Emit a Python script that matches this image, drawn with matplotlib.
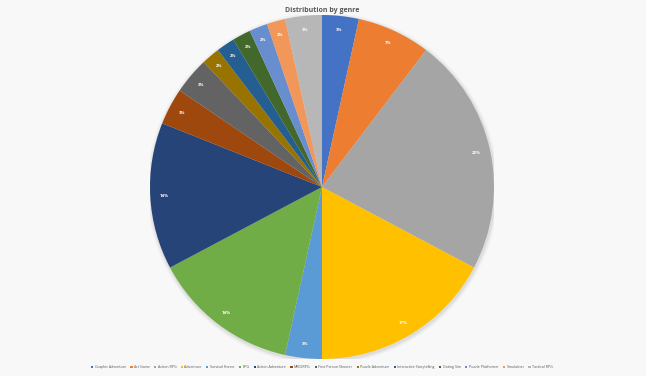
"""Pie chart of games by genre."""

import matplotlib.pyplot as plt
from matplotlib.patches import Circle

genres = [
    "Graphic Adventure", "Art Game", "Action RPG", "Adventure", "Survival Horror",
    "RPG", "Action Adventure", "MMORPG", "First Person Shooter", "Puzzle Adventure",
    "Interactive Storytelling", "Dating Sim", "Puzzle Platformer", "Simulation", "Tactical RPG",
]
counts = [2, 4, 13, 10, 2, 8, 8, 2, 2, 1, 1, 1, 1, 1, 2]
colors = [
    "#4472C4", "#ED7D31", "#A5A5A5", "#FFC000", "#5B9BD5",
    "#70AD47", "#264478", "#9E480E", "#636363", "#997300",
    "#255E91", "#43682B", "#698ED0", "#F1975A", "#B7B7B7",
]

plt.rcParams["font.family"] = ["Open Sans", "DejaVu Sans"]

W, H = 646, 376
fig = plt.figure(figsize=(W / 100, H / 100), dpi=100)
fig.patch.set_facecolor("#f8f8f8")

cx, cy, r = 322, 187, 172
ax = fig.add_axes([(cx - r) / W, (H - cy - r) / H, 2 * r / W, 2 * r / H])

wedges, _, autotexts = ax.pie(
    counts, colors=colors, startangle=90, counterclock=False,
    autopct="%.0f%%", pctdistance=0.92, radius=1.0,
    wedgeprops=dict(linewidth=0),
)
for t in autotexts:
    t.set_color("white")
    t.set_fontsize(3.2)
    t.set_fontweight("bold")

# soft shadow under the pie
for i, a in enumerate([0.05, 0.035, 0.02]):
    ax.add_patch(Circle((0.004, -0.008), 1.0 + 0.008 * (i + 1), color="#000000",
                        alpha=a, lw=0, zorder=0))

ax.set_xlim(-1.0, 1.0)
ax.set_ylim(-1.0, 1.0)
ax.set_aspect("equal")
ax.axis("off")

fig.text(cx / W, 1 - 11 / H, "Distribution by genre", ha="center", va="center",
         fontsize=5, color="#595959", fontweight="bold")

fig.legend(wedges, genres, loc="center", bbox_to_anchor=(cx / W, 1 - 367 / H),
           ncol=len(genres), frameon=False, fontsize=2.6, handlelength=0.6,
           handleheight=0.6, handletextpad=0.4, columnspacing=1.2,
           labelcolor="#595959")

fig.savefig("out.png", dpi=100, facecolor=fig.get_facecolor())
